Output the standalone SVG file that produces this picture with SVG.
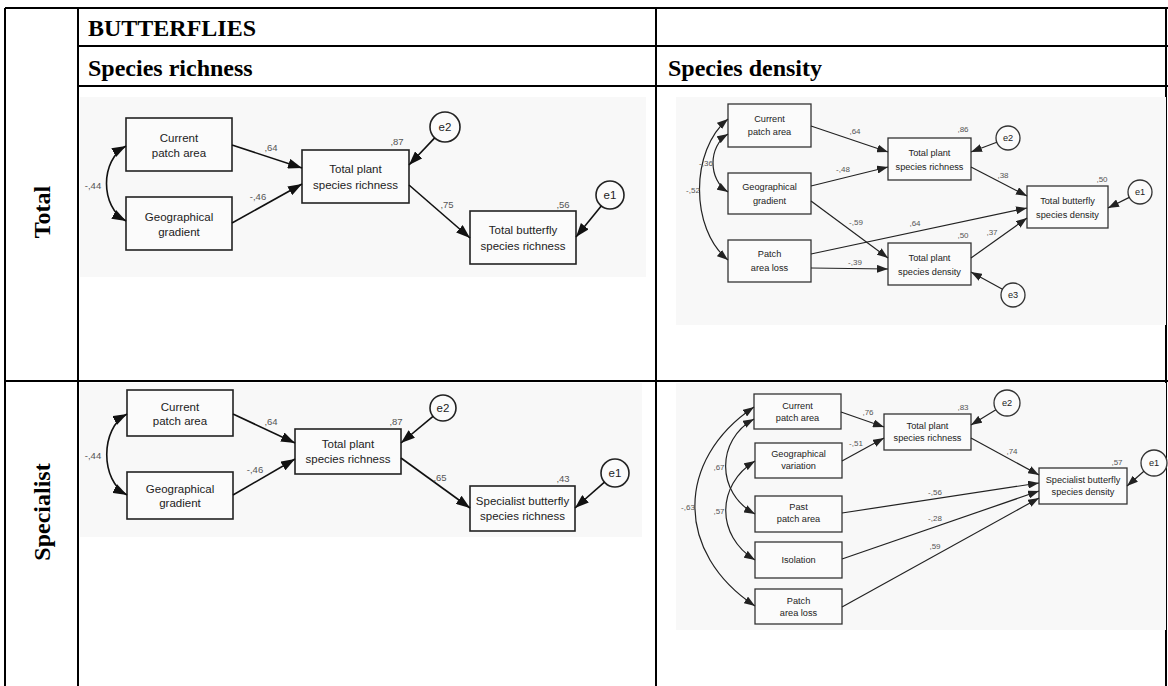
<svg xmlns="http://www.w3.org/2000/svg" width="1168" height="686" viewBox="0 0 1168 686">
<style>
.cell{stroke:#000;stroke-width:2;fill:none}
.hdr{font-family:"Liberation Serif","Times New Roman",serif;font-weight:bold;font-size:24px;fill:#000}
.bg{fill:#f8f8f8}
.box{fill:#fbfbfb;stroke:#222;stroke-width:1.6}
.boxs{fill:#fbfbfb;stroke:#333;stroke-width:1.3}
.lbl{font-family:"Liberation Sans",Arial,sans-serif;font-size:11.5px;fill:#222;text-anchor:middle}
.lbs{font-family:"Liberation Sans",Arial,sans-serif;font-size:9.2px;fill:#222;text-anchor:middle}
.num{font-family:"Liberation Sans",Arial,sans-serif;font-size:9.5px;fill:#555;text-anchor:middle}
.nums{font-family:"Liberation Sans",Arial,sans-serif;font-size:8px;fill:#555;text-anchor:middle}
.e{stroke:#111;stroke-width:1.6;fill:none;marker-end:url(#ah)}
.es{stroke:#222;stroke-width:1.2;fill:none;marker-end:url(#ahs)}
.c{stroke:#111;stroke-width:1.6;fill:none;marker-start:url(#ah);marker-end:url(#ah)}
.cs{stroke:#222;stroke-width:1.2;fill:none;marker-start:url(#ahs);marker-end:url(#ahs)}
</style>
<defs>
<marker id="ah" viewBox="0 0 14 10" refX="14" refY="5" markerWidth="14" markerHeight="10" markerUnits="userSpaceOnUse" orient="auto-start-reverse"><path d="M0,0 L14,5 L0,10 z" fill="#111"/></marker>
<marker id="ahs" viewBox="0 0 11 8" refX="11" refY="4" markerWidth="11" markerHeight="8" markerUnits="userSpaceOnUse" orient="auto-start-reverse"><path d="M0,0 L11,4 L0,8 z" fill="#222"/></marker>
</defs>
<rect width="1168" height="686" fill="#fff"/>
<g id="table">
<path class="cell" d="M5,8 H1168 M78,46 H1168 M78,86 H1168 M5,381 H1168 M5,8 V686 M78,8 V686 M656,8 V686 M1166,8 V686"/>
</g>
<g id="headers">
<text class="hdr" x="88" y="36">BUTTERFLIES</text>
<text class="hdr" x="88" y="76">Species richness</text>
<text class="hdr" x="668" y="76">Species density</text>
<text class="hdr" text-anchor="middle" transform="translate(50,212) rotate(-90)">Total</text>
<text class="hdr" text-anchor="middle" transform="translate(50,512) rotate(-90)">Specialist</text>
</g>
<rect class="bg" x="80" y="97" width="566" height="180"/>
<rect class="bg" x="676" y="97" width="490" height="228"/>
<rect class="bg" x="80" y="383" width="562" height="154"/>
<rect class="bg" x="676" y="383" width="490" height="247"/>

<g id="tl-cpa"><rect class="box" x="126" y="118" width="106" height="53"/><text class="lbl" x="179" y="142">Current</text><text class="lbl" x="179" y="157">patch area</text></g>
<g id="tl-geo"><rect class="box" x="126" y="197" width="106" height="53"/><text class="lbl" x="179" y="221">Geographical</text><text class="lbl" x="179" y="236">gradient</text></g>
<g id="tl-tpr"><rect class="box" x="302" y="150" width="107" height="53"/><text class="lbl" x="355.5" y="173">Total plant</text><text class="lbl" x="355.5" y="189">species richness</text></g>
<g id="tl-tbr"><rect class="box" x="470" y="211" width="106" height="53"/><text class="lbl" x="523" y="234">Total butterfly</text><text class="lbl" x="523" y="250">species richness</text></g>
<g id="tl-e2"><circle class="box" cx="445" cy="127" r="15"/><text class="lbl" x="445" y="131">e2</text></g>
<g id="tl-e1"><circle class="box" cx="610" cy="195" r="14"/><text class="lbl" x="610" y="199">e1</text></g>

<g id="bl-cpa"><rect class="box" x="127" y="390" width="106" height="46"/><text class="lbl" x="180" y="411">Current</text><text class="lbl" x="180" y="425">patch area</text></g>
<g id="bl-geo"><rect class="box" x="127" y="472" width="106" height="47"/><text class="lbl" x="180" y="493">Geographical</text><text class="lbl" x="180" y="507">gradient</text></g>
<g id="bl-tpr"><rect class="box" x="295" y="429" width="106" height="45"/><text class="lbl" x="348" y="448">Total plant</text><text class="lbl" x="348" y="463">species richness</text></g>
<g id="bl-sbr"><rect class="box" x="470" y="486" width="105" height="45"/><text class="lbl" x="522.5" y="505">Specialist butterfly</text><text class="lbl" x="522.5" y="520">species richness</text></g>
<g id="bl-e2"><circle class="box" cx="443" cy="408" r="13"/><text class="lbl" x="443" y="412">e2</text></g>
<g id="bl-e1"><circle class="box" cx="615" cy="473" r="14"/><text class="lbl" x="615" y="477">e1</text></g>

<g id="tr-cpa"><rect class="boxs" x="728" y="104" width="83" height="43"/><text class="lbs" x="769.5" y="122">Current</text><text class="lbs" x="769.5" y="135">patch area</text></g>
<g id="tr-geo"><rect class="boxs" x="728" y="173" width="83" height="41"/><text class="lbs" x="769.5" y="190">Geographical</text><text class="lbs" x="769.5" y="204">gradient</text></g>
<g id="tr-pal"><rect class="boxs" x="728" y="240" width="83" height="42"/><text class="lbs" x="769.5" y="257">Patch</text><text class="lbs" x="769.5" y="271">area loss</text></g>
<g id="tr-tpr"><rect class="boxs" x="888" y="138" width="83" height="42"/><text class="lbs" x="929.5" y="156">Total plant</text><text class="lbs" x="929.5" y="170">species richness</text></g>
<g id="tr-tpd"><rect class="boxs" x="888" y="243" width="83" height="42"/><text class="lbs" x="929.5" y="261">Total plant</text><text class="lbs" x="929.5" y="275">species density</text></g>
<g id="tr-tbd"><rect class="boxs" x="1027" y="186" width="81" height="42"/><text class="lbs" x="1067.5" y="204">Total butterfly</text><text class="lbs" x="1067.5" y="218">species density</text></g>
<g id="tr-e2"><circle class="boxs" cx="1008" cy="138" r="12"/><text class="lbs" x="1008" y="141">e2</text></g>
<g id="tr-e1"><circle class="boxs" cx="1140" cy="192" r="12"/><text class="lbs" x="1140" y="195">e1</text></g>
<g id="tr-e3"><circle class="boxs" cx="1013" cy="295" r="12"/><text class="lbs" x="1013" y="298">e3</text></g>

<g id="br-cpa"><rect class="boxs" x="754" y="394" width="87" height="35"/><text class="lbs" x="797.5" y="409">Current</text><text class="lbs" x="797.5" y="421">patch area</text></g>
<g id="br-geo"><rect class="boxs" x="755" y="443" width="87" height="35"/><text class="lbs" x="798.5" y="457">Geographical</text><text class="lbs" x="798.5" y="469">variation</text></g>
<g id="br-ppa"><rect class="boxs" x="755" y="496" width="87" height="36"/><text class="lbs" x="798.5" y="510">Past</text><text class="lbs" x="798.5" y="522">patch area</text></g>
<g id="br-iso"><rect class="boxs" x="755" y="542" width="87" height="36"/><text class="lbs" x="798.5" y="563">Isolation</text></g>
<g id="br-pal"><rect class="boxs" x="755" y="589" width="87" height="35"/><text class="lbs" x="798.5" y="604">Patch</text><text class="lbs" x="798.5" y="616">area loss</text></g>
<g id="br-tpr"><rect class="boxs" x="884" y="414" width="87" height="36"/><text class="lbs" x="927.5" y="429">Total plant</text><text class="lbs" x="927.5" y="441">species richness</text></g>
<g id="br-sbd"><rect class="boxs" x="1039" y="468" width="88" height="36"/><text class="lbs" x="1083" y="483">Specialist butterfly</text><text class="lbs" x="1083" y="495">species density</text></g>
<g id="br-e2"><circle class="boxs" cx="1007" cy="403" r="13"/><text class="lbs" x="1007" y="406">e2</text></g>
<g id="br-e1"><circle class="boxs" cx="1154" cy="463" r="13"/><text class="lbs" x="1154" y="466">e1</text></g>

<g id="connectors">
<path class="e" d="M232,145 L302,168"/>
<path class="e" d="M232,223 L302,184"/>
<path class="e" d="M434.7,137.9 L409,165"/>
<path class="e" d="M409,185 L470,238"/>
<path class="e" d="M601.2,205.9 L576,237"/>
<path class="c" d="M126,146 C100,160 100,207 126,221"/>
<path class="e" d="M233,414 L295,443"/>
<path class="e" d="M233,495 L295,459"/>
<path class="e" d="M433,416.3 L401,443"/>
<path class="e" d="M401,458 L470,508"/>
<path class="e" d="M604.5,482.2 L575,508"/>
<path class="c" d="M127,414 C100,428 100,481 127,495"/>
<path class="es" d="M811,126 L888,152"/>
<path class="es" d="M811,186 L888,167"/>
<path class="es" d="M811,201 L888,258"/>
<path class="es" d="M811,254 L1027,208"/>
<path class="es" d="M811,268 L888,269"/>
<path class="es" d="M971,167 L1027,196"/>
<path class="es" d="M971,258 L1027,218"/>
<path class="es" d="M996.8,142.2 L971,152"/>
<path class="es" d="M1129.3,197.4 L1108,208"/>
<path class="es" d="M1002.5,289.2 L971,272"/>
<path class="cs" d="M728,134 C708,146 708,180 728,192"/>
<path class="cs" d="M728,119 C690,150 690,229 728,260"/>
<path class="es" d="M841,412 L884,427"/>
<path class="es" d="M842,461 L884,438"/>
<path class="es" d="M971,438 L1039,475"/>
<path class="es" d="M842,513 L1039,483"/>
<path class="es" d="M842,559 L1039,491"/>
<path class="es" d="M842,607 L1039,498"/>
<path class="es" d="M995.9,409.8 L971,425"/>
<path class="es" d="M1143.9,471.3 L1127,486"/>
<path class="cs" d="M754,407 C675,460 675,553 755,606"/>
<path class="cs" d="M754,419 C716,440 716,493 755,514"/>
<path class="cs" d="M755,461 C716,485 716,536 755,560"/>
</g>
<g id="edge-labels">
<text class="num" x="271" y="151">,64</text>
<text class="num" x="258" y="200">-,46</text>
<text class="num" x="93" y="189">-,44</text>
<text class="num" x="397" y="145">,87</text>
<text class="num" x="447" y="208">,75</text>
<text class="num" x="563" y="208">,56</text>
<text class="num" x="271" y="425">,64</text>
<text class="num" x="255" y="473">-,46</text>
<text class="num" x="93" y="459">-,44</text>
<text class="num" x="396" y="425">,87</text>
<text class="num" x="440" y="481">,65</text>
<text class="num" x="563" y="482">,43</text>
<text class="nums" x="855" y="134">,64</text>
<text class="nums" x="843" y="172">-,48</text>
<text class="nums" x="856" y="225">-,59</text>
<text class="nums" x="915" y="226">,64</text>
<text class="nums" x="855" y="265">-,39</text>
<text class="nums" x="706" y="166">-,36</text>
<text class="nums" x="693" y="193">-,52</text>
<text class="nums" x="963" y="132">,86</text>
<text class="nums" x="1003" y="178">,38</text>
<text class="nums" x="1102" y="182">,50</text>
<text class="nums" x="963" y="238">,50</text>
<text class="nums" x="992" y="235">,37</text>
<text class="nums" x="868" y="415">,76</text>
<text class="nums" x="856" y="446">-,51</text>
<text class="nums" x="1012" y="454">,74</text>
<text class="nums" x="963" y="410">,83</text>
<text class="nums" x="1117" y="465">,57</text>
<text class="nums" x="935" y="495">-,56</text>
<text class="nums" x="935" y="521">-,28</text>
<text class="nums" x="935" y="549">,59</text>
<text class="nums" x="719" y="470">,67</text>
<text class="nums" x="719" y="514">,57</text>
<text class="nums" x="688" y="510">-,63</text>
</g>
</svg>
